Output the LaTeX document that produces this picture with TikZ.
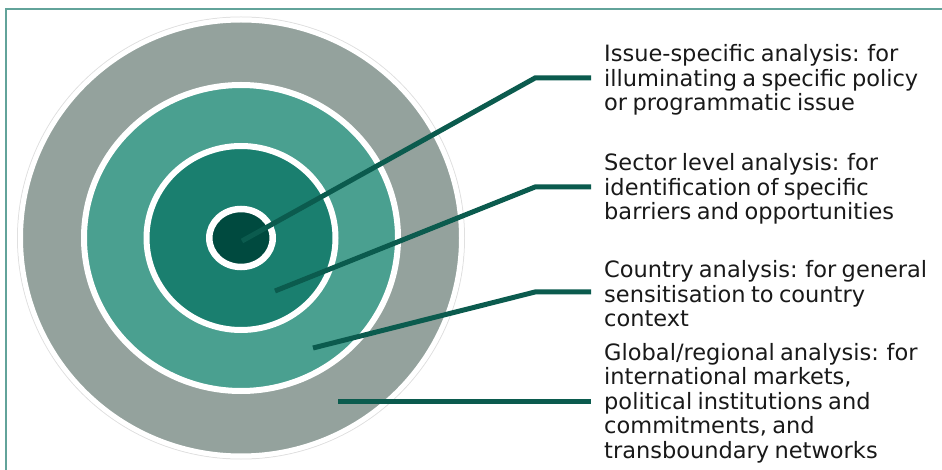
\documentclass[tikz,border=0pt]{standalone}
\usepackage{fontspec}
\newfontfamily\lblfont{DejaVu Sans}[WordSpace=0.75]
\definecolor{framecol}{HTML}{62A39A}
\definecolor{outercol}{HTML}{94A29D}
\definecolor{midcol}{HTML}{4AA090}
\definecolor{innercol}{HTML}{1A7F6F}
\definecolor{corecol}{HTML}{004A3F}
\definecolor{leadcol}{HTML}{0B5B4E}
\begin{document}
\begin{tikzpicture}[x=1pt,y=-1pt,
  lbl/.style={anchor=west,align=left,inner xsep=13pt,inner ysep=0pt,
    font={\lblfont\fontsize{22.5}{24.5}\selectfont},text=black!90},
  leader/.style={draw=leadcol,line width=5pt},
  ring/.style={draw=white,line width=6pt}]

  \useasboundingbox (0,0) rectangle (942,470);
  \clip (0,0) rectangle (942,470);
  \draw[framecol,line width=2pt] (6,9) rectangle (960,490);

  % target rings
  \coordinate (c) at (241,238);
  \draw[black!12,line width=1pt] (c) ellipse [x radius=223.5, y radius=221];
  \draw[fill=outercol,draw=white,line width=5pt] (c) ellipse [x radius=220.5, y radius=218];
  \draw[ring,fill=midcol] (c) ellipse [x radius=157, y radius=153];
  \draw[ring,fill=innercol] (c) ellipse [x radius=94.5, y radius=92];
  \draw[ring,fill=corecol,line width=6.5pt] (c) ellipse [x radius=31.75, y radius=29];

  \coordinate (c1) at (242,241);
  \coordinate (c2) at (275,291);
  \coordinate (c3) at (313,348);
  \coordinate (c4) at (338,401);

  \node[lbl] (issue) at (591,80) {Issue-specific analysis: for\\illuminating a specific policy\\or programmatic issue};
  \node[lbl] (sector) at (591,189) {Sector level analysis: for\\identification of specific\\barriers and opportunities};
  \node[lbl] (country) at (591,294) {Country analysis: for general\\sensitisation to country\\context};
  \node[lbl] (global) at (591,403) {Global/regional analysis: for\\international markets,\\political institutions and\\commitments, and\\transboundary networks};

  \draw[leader] (c1) -- ([xshift=-56pt,yshift=2pt]issue.west) -- ([yshift=2pt]issue.west);
  \draw[leader] (c2) -- ([xshift=-56pt,yshift=2pt]sector.west) -- ([yshift=2pt]sector.west);
  \draw[leader] (c3) -- ([xshift=-56pt,yshift=2pt]country.west) -- ([yshift=2pt]country.west);
  \draw[leader] (c4) -- ([yshift=2pt]global.west);
\end{tikzpicture}
\end{document}
